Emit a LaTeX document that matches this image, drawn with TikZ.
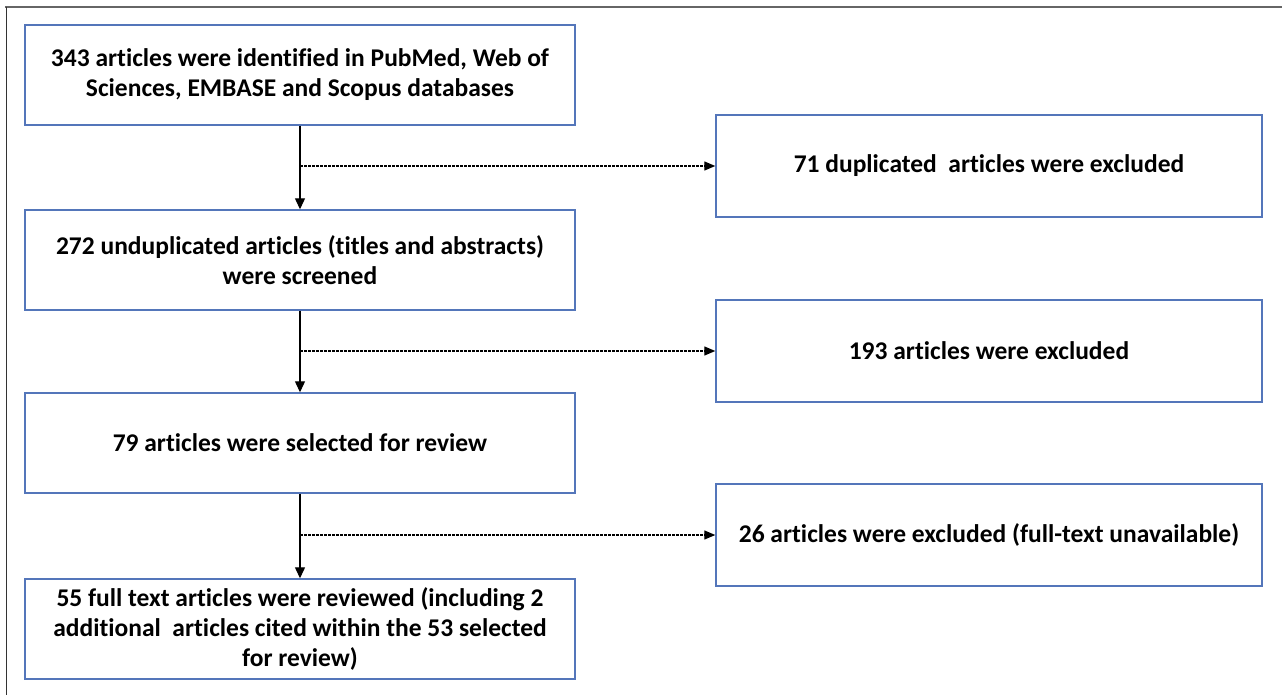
\documentclass[tikz,border=0pt]{standalone}
\usepackage{fontspec}
\setmainfont[Ligatures=NoCommon]{Carlito}
\usetikzlibrary{arrows.meta}
\definecolor{boxblue}{RGB}{84,118,186}
\tikzstyle{every node}=[font=\bfseries\fontsize{25.5}{30}\selectfont,align=center]
\tikzstyle{stage}=[draw=boxblue,line width=1.4pt,minimum width=550pt,minimum height=100pt,inner sep=0pt]
\tikzstyle{excl}=[draw=boxblue,line width=1.4pt,minimum width=546pt,minimum height=102pt,inner sep=0pt]
\tikzstyle{flow}=[line width=1.2pt,-{Triangle[length=11pt,width=10pt]}]
\tikzstyle{side}=[line width=1.3pt,dash pattern=on 2.5pt off 1.5pt,-{Triangle[length=11pt,width=9pt]}]

\begin{document}
\begin{tikzpicture}[x=1pt,y=-1pt]
	\useasboundingbox (0,0) rectangle (1282,695);
	\draw[gray!80!black,line width=2pt] (5,7) -- (1282,7);
	\draw[black!80,line width=1pt] (6,7) -- (6,695);
	\node[stage] (ident) at (300,75) {343 articles were identified in PubMed, Web of\\Sciences, EMBASE and Scopus databases};
	\node[stage] (screen) at (300,260) {272 unduplicated articles (titles and abstracts)\\were screened};
	\node[stage] (select) at (300,443) {79 articles were selected for review};
	\node[stage] (review) at (300,629) {55 full text articles were reviewed (including 2\\additional~ articles cited within the 53 selected\\for review)};
	\node[excl] (dup) at (989,166) {71 duplicated~ articles were excluded};
	\node[excl] (excl) at (989,351) {193 articles were excluded};
	\node[excl] (full) at (989,535) {26 articles were excluded (full-text unavailable)};
	\draw[flow] (ident) -- (screen);
	\draw[flow] (screen) -- (select);
	\draw[flow] (select) -- (review);
	\draw[side] (dup.west -| ident.south) -- (dup.west);
	\draw[side] (excl.west -| screen.south) -- (excl.west);
	\draw[side] (full.west -| select.south) -- (full.west);
\end{tikzpicture}
\end{document}
